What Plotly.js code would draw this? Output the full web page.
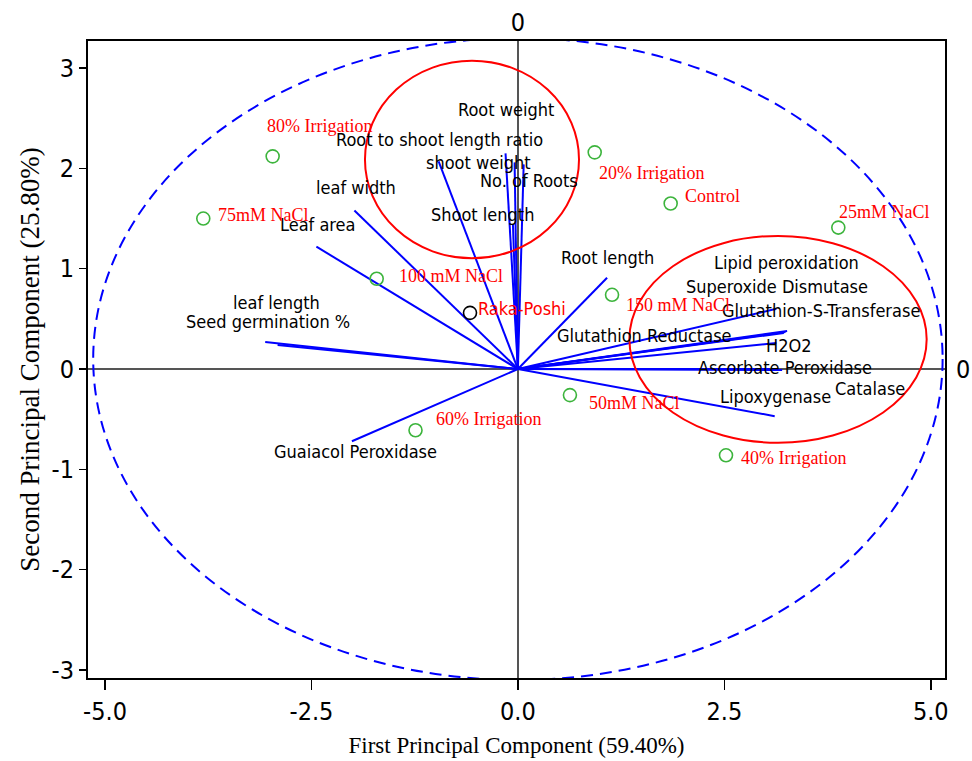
<!DOCTYPE html>
<html>
<head>
<meta charset="utf-8">
<script src="https://cdn.plot.ly/plotly-3.0.1.min.js"></script>
<style>html,body{margin:0;padding:0;background:#fff;}#chart{width:972px;height:761px;}</style>
</head>
<body>
<div id="chart"></div>
<script>
// ---- Sample (treatment) scores ----
var sampleNames = ["80% Irrigation","75mM NaCl","100 mM NaCl","20% Irrigation","Control","25mM NaCl","150 mM NaCl","50mM NaCl","60% Irrigation","40% Irrigation"];
var sampleX = [-2.97,-3.81,-1.71,0.93,1.85,3.88,1.14,0.63,-1.24,2.52];
var sampleY = [2.12,1.50,0.90,2.16,1.65,1.41,0.74,-0.26,-0.61,-0.86];
// label anchor points for samples (left edge of text)
var sampleLabX = [-3.06,-3.65,-1.46,0.96,2.00,3.87,1.29,0.84,-1.02,2.68];
var sampleLabY = [2.42,1.54,0.93,1.95,1.72,1.57,0.64,-0.34,-0.50,-0.89];

var refName = "Raka-Poshi";
var refX = [-0.58];
var refY = [0.56];
var refLabX = -0.51, refLabY = 0.60;

// ---- Variable loadings (vector end points) ----
var varNames = ["Seed germination %","leaf length","Leaf area","leaf width","shoot weight","Root to shoot length ratio","Root weight","No. of Roots","Shoot length","Root length","Glutathion-S-Transferase","Lipid peroxidation","Superoxide Dismutase","Glutathion Reductase","H2O2","Ascorbate Peroxidase","Catalase","Lipoxygenase","Guaiacol Peroxidase"];
var varX = [-3.06,-2.91,-2.44,-1.98,-0.96,-0.15,-0.04,0.07,-0.06,1.08,3.13,3.26,3.24,3.22,3.13,3.05,3.20,3.11,-2.01];
var varY = [0.27,0.24,1.22,1.58,2.07,2.15,2.06,2.04,1.44,0.91,0.60,0.38,0.37,0.36,0.26,0.00,-0.01,-0.47,-0.72];
// label centres for variables
var varLabX = [-3.03,-2.92,-2.42,-1.96,-0.48,-0.95,-0.14,0.13,-0.43,1.08,3.67,3.25,3.14,1.53,3.28,3.23,4.26,3.12,-1.97];
var varLabY = [0.47,0.66,1.44,1.81,2.06,2.29,2.59,1.88,1.54,1.11,0.58,1.06,0.82,0.33,0.23,0.02,-0.19,-0.27,-0.82];

// ---- Group ellipses: centre x, centre y, radius x, radius y ----
var grpCX = [-0.556, 3.15];
var grpCY = [2.089, 0.296];
var grpRX = [1.296, 1.80];
var grpRY = [0.985, 1.031];

// ---- Confidence ellipse ----
var confCX = 0, confCY = 0.1, confRX = 5.143, confRY = 3.2;

var xTicks = [-5, -2.5, 0, 2.5, 5];
var xTickText = ["-5.0","-2.5","0.0","2.5","5.0"];
var yTicks = [-3,-2,-1,0,1,2,3];
var yTickText = ["-3","-2","-1","0","1","2","3"];

var vx = [], vy = [];
for (var i = 0; i < varX.length; i++) { vx.push(0, varX[i], null); vy.push(0, varY[i], null); }

var sansC = "DejaVu Sans Condensed, DejaVu Sans, sans-serif";
var serif = "Liberation Serif, Times New Roman, serif";

var traces = [
  {x: vx, y: vy, mode: "lines", line: {color: "#0000ff", width: 2}, hoverinfo: "skip", showlegend: false},
  {x: sampleX, y: sampleY, mode: "markers", marker: {symbol: "circle-open", size: 13, color: "#3cb43c", line: {width: 1.6}}, showlegend: false, text: sampleNames},
  {x: refX, y: refY, mode: "markers", marker: {symbol: "circle-open", size: 13, color: "#000000", line: {width: 1.6}}, showlegend: false, text: [refName]},
  {x: [0], y: [0], xaxis: "x2", yaxis: "y2", mode: "markers", marker: {opacity: 0}, hoverinfo: "skip", showlegend: false}
];

var annotations = [];
for (var j = 0; j < varNames.length; j++) {
  annotations.push({x: varLabX[j], y: varLabY[j], text: varNames[j], showarrow: false, xanchor: "center", yanchor: "middle",
    font: {family: sansC, size: 18, color: "#000"}});
}
for (var k = 0; k < sampleNames.length; k++) {
  annotations.push({x: sampleLabX[k], y: sampleLabY[k], text: sampleNames[k], showarrow: false, xanchor: "left", yanchor: "middle",
    font: {family: serif, size: 18, color: "#ff0000"}});
}
annotations.push({x: refLabX, y: refLabY, text: refName, showarrow: false, xanchor: "left", yanchor: "middle",
  font: {family: sansC, size: 18, color: "#ff0000"}});

var shapes = [];
for (var g = 0; g < grpCX.length; g++) {
  shapes.push({type: "circle", xref: "x", yref: "y", x0: grpCX[g]-grpRX[g], x1: grpCX[g]+grpRX[g], y0: grpCY[g]-grpRY[g], y1: grpCY[g]+grpRY[g],
    line: {color: "#ff0000", width: 2}, layer: "above"});
}
shapes.push({type: "circle", xref: "x", yref: "y", x0: confCX-confRX, x1: confCX+confRX, y0: confCY-confRY, y1: confCY+confRY,
  line: {color: "#0000ff", width: 2, dash: "12px,7px"}, layer: "above"});

var xr = [-5.206, 5.172], yr = [-3.08, 3.27];
var layout = {
  width: 972, height: 761,
  margin: {l: 88, r: 27, t: 41, b: 83},
  paper_bgcolor: "#fff", plot_bgcolor: "#fff",
  showlegend: false,
  xaxis: {range: xr, tickvals: xTicks, ticktext: xTickText, ticks: "outside", ticklen: 10, tickwidth: 1.5, tickcolor: "#000",
    showline: true, linewidth: 2, linecolor: "#000", mirror: true, showgrid: false,
    zeroline: true, zerolinecolor: "#555", zerolinewidth: 1.5,
    tickfont: {family: sansC, size: 25, color: "#000"},
    title: {text: "First Principal Component (59.40%)", font: {family: serif, size: 23, color: "#000"}, standoff: 12}},
  yaxis: {range: yr, tickvals: yTicks, ticktext: yTickText, ticks: "outside", ticklen: 7, tickwidth: 1.5, tickcolor: "#000",
    showline: true, linewidth: 2, linecolor: "#000", mirror: true, showgrid: false,
    zeroline: true, zerolinecolor: "#555", zerolinewidth: 1.5,
    tickfont: {family: sansC, size: 25, color: "#000"},
    title: {text: "Second Principal Component (25.80%)", font: {family: serif, size: 27, color: "#000"}, standoff: 4}},
  xaxis2: {range: xr, overlaying: "x", side: "top", tickvals: [0], ticktext: ["0"], ticks: "", showline: false, showgrid: false, zeroline: false,
    ticklabelstandoff: 4, tickfont: {family: sansC, size: 25, color: "#000"}},
  yaxis2: {range: yr, overlaying: "y", side: "right", tickvals: [0], ticktext: ["0"], ticks: "", showline: false, showgrid: false, zeroline: false,
    ticklabelstandoff: 10, tickfont: {family: sansC, size: 25, color: "#000"}},
  annotations: annotations,
  shapes: shapes
};
Plotly.newPlot("chart", traces, layout, {displayModeBar: false, staticPlot: true});
</script>
</body>
</html>
